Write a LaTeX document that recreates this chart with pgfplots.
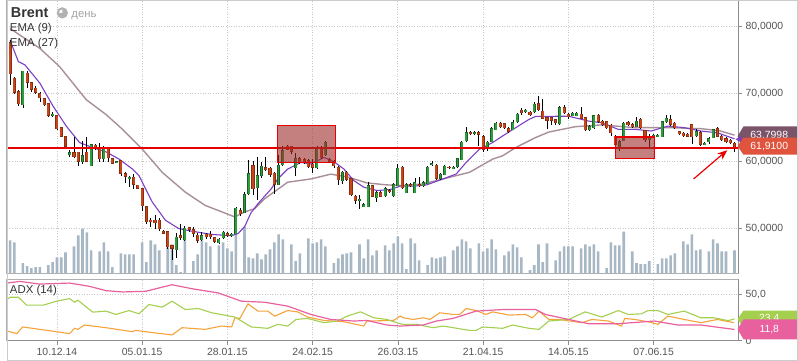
\documentclass[border=0pt]{standalone}
\usepackage{pgfplots}
\pgfplotsset{compat=1.18}
\usepackage{pgfplotstable}
\usepackage{fontspec}
\setmainfont{Liberation Sans}
\usetikzlibrary{arrows.meta}
\definecolor{candR}{HTML}{C8461C}
\definecolor{candRd}{HTML}{8A2C0E}
\definecolor{candG}{HTML}{2E9E3C}
\definecolor{candGd}{HTML}{1C5E25}
\definecolor{volc}{HTML}{A7B7C4}
\definecolor{ema9}{HTML}{7B3FC4}
\definecolor{ema27}{HTML}{A88E9A}
\definecolor{gridc}{HTML}{C8C8C8}
\definecolor{framec}{HTML}{B0B0B0}
\definecolor{axc}{HTML}{8C8C8C}
\definecolor{txt}{HTML}{555555}
\definecolor{adxp}{HTML}{E8609E}
\definecolor{adxg}{HTML}{A5CF4F}
\definecolor{adxo}{HTML}{F5A33A}
\definecolor{lvl}{RGB}{230,0,0}
\definecolor{boxf}{HTML}{9E2A2A}
\definecolor{badgeM}{HTML}{7A5468}
\definecolor{badgeR}{HTML}{E0533C}
\newcommand\fs[1]{\fontsize{#1}{#1}\selectfont}

\pgfplotstableread{
i o h l c
0 77.5 77.9 71.3 73.0
1 72.3 72.5 70.0 70.2
2 70.3 70.5 68.2 68.5
3 68.4 73.4 67.8 73.3
4 73.0 73.3 70.8 71.7
5 71.6 71.8 70.2 70.7
6 70.8 71.1 69.9 70.2
7 70.0 70.2 68.8 69.4
8 69.2 69.4 68.2 68.4
9 68.5 68.6 66.6 66.8
10 66.8 67.3 66.6 66.9
11 66.7 66.9 64.6 64.8
12 64.95 65.0 63.5 63.7
13 63.6 63.6 61.8 62.2
14 61.1 61.6 60.6 61.2
15 61.2 63.5 60.4 60.7
16 61.3 61.3 59.3 60.0
17 60.0 63.0 59.5 60.8
18 61.3 63.5 59.8 60.0
19 59.4 62.5 59.2 62.4
20 62.3 62.5 61.7 61.9
21 61.8 62.7 59.9 60.4
22 60.5 62.3 59.8 61.7
23 61.8 62.0 59.9 60.5
24 60.3 60.5 59.5 59.7
25 59.8 60.0 59.7 59.9
26 60.0 60.1 57.8 58.2
27 58.1 58.4 56.8 57.8
28 57.5 57.8 56.2 57.6
29 57.6 58.1 55.9 56.6
30 56.4 56.5 55.9 56.0
31 55.9 56.0 52.6 53.4
32 53.2 53.3 50.6 51.0
33 51.2 51.6 50.2 51.0
34 51.2 52.0 49.9 50.9
35 51.2 51.5 49.6 50.0
36 49.6 49.8 49.2 49.3
37 49.5 49.6 47.0 47.3
38 47.4 47.5 45.3 47.1
39 47.0 49.3 45.7 48.7
40 48.9 50.6 48.3 48.7
41 48.4 50.3 48.2 50.0
42 50.1 50.2 49.5 49.9
43 49.8 50.2 48.7 49.3
44 49.0 49.4 47.9 48.3
45 48.4 49.5 48.1 48.9
46 49.1 49.4 48.5 48.8
47 49.1 49.6 48.5 48.8
48 48.6 48.8 47.8 48.1
49 48.0 48.6 47.7 48.4
50 48.8 49.6 48.5 49.4
51 49.2 49.5 48.8 49.0
52 49.0 49.3 48.8 49.1
53 49.4 53.2 49.2 53.0
54 52.6 53.0 51.9 52.2
55 52.5 55.4 52.3 55.0
56 55.3 60.2 55.0 58.1
57 59.3 60.0 55.0 55.9
58 56.1 60.6 54.2 57.8
59 57.9 59.8 57.5 59.2
60 59.0 60.6 58.5 58.7
61 58.9 59.1 57.6 58.1
62 58.2 58.4 55.1 56.6
63 56.6 60.9 56.4 59.4
64 59.6 62.2 59.3 61.5
65 62.2 62.4 61.7 61.8
66 62.2 62.3 61.0 61.5
67 59.1 61.2 57.8 60.3
68 60.3 60.6 59.6 59.9
69 60.2 60.5 59.6 59.9
70 60.0 60.3 59.0 59.2
71 59.5 60.3 58.3 59.1
72 59.1 62.2 58.9 62.0
73 62.0 62.2 60.3 60.55
74 61.0 63.0 60.7 62.75
75 60.2 60.5 59.7 59.9
76 59.9 60.2 59.0 59.3
77 59.1 59.3 56.4 57.25
78 57.25 58.5 56.6 58.3
79 58.3 58.5 57.0 57.35
80 57.35 57.5 54.8 55.0
81 54.8 55.0 53.7 54.2
82 54.2 54.9 52.9 54.3
83 53.4 53.8 53.2 53.5
84 53.4 56.9 53.2 56.3
85 56.3 56.5 54.6 54.8
86 54.7 55.5 53.9 55.3
87 55.3 55.5 54.6 54.8
88 54.9 56.1 54.6 55.9
89 55.6 55.8 55.3 55.5
90 54.9 56.7 54.7 56.5
91 56.5 59.6 56.3 58.9
92 59.1 59.3 55.9 56.1
93 55.4 56.7 55.2 56.5
94 56.5 56.7 56.2 56.4
95 55.4 57.5 55.2 56.8
96 56.5 57.7 56.2 56.4
97 56.4 57.0 56.2 56.8
98 56.8 59.3 56.6 59.1
99 59.5 60.0 59.2 59.6
100 59.4 59.6 57.2 57.45
101 57.45 58.2 57.2 58.0
102 58.1 59.4 57.9 59.2
103 59.1 59.3 58.9 59.0
104 59.0 59.3 58.8 59.1
105 59.2 60.5 59.0 60.3
106 60.3 63.0 60.1 62.8
107 63.1 65.0 62.9 64.2
108 64.2 64.4 63.9 64.1
109 64.1 64.4 63.9 64.2
110 64.2 64.4 62.3 64.0
111 63.6 63.8 61.3 61.8
112 62.2 63.0 61.5 62.8
113 63.0 65.0 62.8 64.8
114 64.8 65.8 64.6 65.6
115 65.6 65.8 64.9 65.1
116 65.55 65.7 64.8 64.95
117 64.8 65.0 64.2 64.45
118 64.8 66.1 64.6 65.7
119 65.9 67.1 65.7 66.9
120 67.55 67.9 66.9 67.15
121 67.4 67.7 67.2 67.5
122 67.25 67.5 66.7 66.9
123 67.4 68.7 67.2 68.4
124 68.5 69.7 67.4 67.65
125 67.4 69.2 66.2 66.4
126 66.4 66.6 64.7 66.1
127 66.4 66.6 65.3 66.1
128 66.1 66.3 65.4 65.7
129 65.6 68.1 65.4 67.9
130 67.9 68.3 67.0 67.2
131 66.9 67.1 66.3 66.6
132 66.9 67.3 66.7 67.1
133 66.9 67.3 66.7 67.1
134 66.9 68.0 66.2 66.4
135 66.4 66.6 64.5 64.7
136 64.7 65.3 64.5 65.1
137 65.0 66.9 64.8 66.7
138 66.8 67.0 65.7 65.9
139 65.9 66.1 65.2 65.4
140 65.8 66.0 64.7 64.95
141 65.3 65.5 63.7 64.2
142 63.7 63.9 62.3 62.5
143 62.25 63.1 61.5 62.85
144 63.2 65.8 63.0 65.6
145 65.7 65.9 65.2 65.4
146 65.4 65.6 64.9 65.1
147 65.2 66.5 65.0 65.9
148 66.2 66.4 64.8 65.0
149 64.45 64.6 62.9 63.15
150 63.3 64.0 61.8 63.7
151 63.7 64.0 63.5 63.8
152 63.7 64.0 63.5 63.8
153 63.7 66.0 63.5 65.8
154 65.9 66.9 65.7 66.3
155 66.1 66.9 65.2 65.45
156 65.6 65.8 64.8 65.0
157 64.3 64.5 63.9 64.1
158 64.1 64.3 63.6 63.8
159 64.0 64.2 63.5 63.7
160 65.4 65.5 62.5 63.6
161 63.8 64.8 63.6 64.3
162 64.2 64.4 62.3 62.5
163 62.55 62.8 62.4 62.65
164 63.0 63.5 62.5 63.3
165 63.6 64.8 63.4 64.6
166 64.8 65.1 63.5 63.7
167 63.7 63.9 63.0 63.2
168 63.3 63.5 62.7 62.85
169 63.1 63.3 62.5 62.75
170 62.65 62.8 61.4 61.9
}\candles

\pgfplotstableread{
i v
0 33
1 31
2 0
3 10
4 7
5 5
6 6
7 6
8 0
9 8
10 11
11 16
12 16
13 21
14 0
15 27
16 38
17 45
18 41
19 23
20 0
21 22
22 31
23 22
24 6
25 0
26 20
27 19
28 19
29 19
30 0
31 31
32 11
33 33
34 29
35 23
36 0
37 26
38 29
39 8
40 1
41 45
42 0
43 12
44 19
45 33
46 31
47 27
48 0
49 28
50 31
51 25
52 22
53 47
54 0
55 47
56 16
57 15
58 20
59 14
60 19
61 24
62 31
63 39
64 34
65 0
66 29
67 12
68 20
69 0
70 35
71 30
72 31
73 34
74 27
75 0
76 10
77 15
78 19
79 20
80 21
81 0
82 29
83 15
84 34
85 18
86 23
87 0
88 28
89 23
90 30
91 37
92 30
93 4
94 35
95 30
96 13
97 0
98 8
99 16
100 15
101 16
102 17
103 0
104 23
105 27
106 34
107 32
108 25
109 0
110 30
111 22
112 25
113 34
114 24
115 0
116 18
117 22
118 29
119 26
120 16
121 0
122 3
123 8
124 29
125 11
126 30
127 0
128 13
129 22
130 27
131 27
132 27
133 0
134 25
135 29
136 27
137 29
138 22
139 0
140 5
141 31
142 28
143 28
144 42
145 0
146 22
147 10
148 9
149 9
150 12
151 0
152 9
153 15
154 15
155 18
156 20
157 0
158 32
159 29
160 39
161 23
162 24
163 0
164 22
165 34
166 30
167 22
168 22
169 0
170 23
}\vol

\pgfplotstableread{
i p
0 77.9
1.95 74.75
3.49 74.26
6.98 71.57
10.1 68.13
13.19 65.19
16.29 62.75
19.4 62.0
22.5 61.37
25.59 60.29
28.71 58.82
30.25 57.84
33.36 53.93
36.46 51.22
39.55 50.0
42.67 49.6
47.32 49.12
51.98 48.93
53.51 49.26
55.07 50.3
56.5 52.3
58.17 53.68
61.28 55.88
62.82 57.35
65.15 58.82
68.26 59.81
70.59 59.56
73.68 60.54
76.01 59.9
78.34 58.82
80.67 57.1
82.99 56.13
86.09 55.63
89.2 55.78
91.53 56.28
94.63 56.28
97.72 56.47
101.6 57.35
104.7 58.09
107.03 59.81
110.14 61.76
113.24 62.75
115.57 63.72
118.66 64.96
121.77 66.18
123.31 66.62
131.08 66.66
135.74 65.93
138.83 65.69
142.71 64.71
146.6 64.71
150.47 64.46
154.35 65.19
158.21 64.96
162.1 64.46
165.98 64.2
170 63.3
}\emanine

\pgfplotstableread{
i p
0 79.66
6.98 76.72
11.63 74.01
17.85 69.12
22.5 66.91
26.38 64.71
31.04 61.76
35.69 58.34
41.11 55.4
45.77 53.43
52.74 51.72
55.07 52.46
57.4 52.94
59.72 54.41
65.15 56.87
70.59 57.35
75.24 58.06
79.11 57.66
83.76 56.76
88.42 56.47
92.3 56.37
96.95 56.62
103.16 57.6
107.82 58.34
113.24 60.29
115.57 60.78
118.66 62.01
123.31 63.49
126.43 64.31
132.62 65.1
138.83 65.37
146.6 64.96
154.35 64.96
162.1 64.81
166.5 64.5
170 63.85
}\ematw

\pgfplotstableread{
i v
-0.77 62.1
2.33 63.9
6.91 61.0
13.96 62.1
18.61 58.6
22.5 53.9
26.38 52.5
31.8 53.2
38.02 60.3
42.67 56.0
48.86 51.4
54.3 42.5
59.72 41.4
65.15 37.2
70.59 28.2
75.24 22.8
80.67 21.1
83.76 21.7
88.42 16.8
91.53 15.7
96.95 16.8
100.04 21.1
103.93 23.9
109.35 31.8
115.57 33.5
123.31 33.5
125.64 28.2
131.08 22.8
135.74 18.2
142.71 18.2
151.23 21.1
156.68 16.8
162.1 16.8
169.84 12.1
170 11.8
}\adx

\pgfplotstableread{
i v
-0.77 44.2
0 46.8
1.95 46.8
3.89 38.2
7.77 38.2
10.87 42.5
13.96 45.3
15.12 41.4
15.91 43.6
19.4 30.7
22.5 31.8
24.83 28.2
27.92 32.4
30.25 28.9
32.57 38.9
35.69 36.1
38.02 42.5
41.11 33.5
44.21 34.6
47.32 30.0
52.74 25.4
56.63 14.7
60.49 13.2
62.82 17.5
65.15 15.7
67.1 22.8
69.8 23.9
73.68 19.3
76.78 21.1
79.11 26.4
82.22 31.0
85.32 24.6
88.42 22.8
91.53 18.2
92.3 17.5
95.39 17.5
99.27 13.9
101.6 15.7
107.82 11.0
109.35 11.0
110.91 14.7
115.57 13.2
117.89 16.8
121.77 13.2
124.1 12.1
126.43 21.1
131.08 22.8
134.95 31.0
138.83 25.4
142.71 32.4
145.04 28.2
148.14 28.9
149.7 32.4
152.02 32.4
154.35 28.2
158.21 31.8
162.1 24.6
165.19 24.6
168.5 21.5
170 23.4
}\dip

\pgfplotstableread{
i v
-0.77 10.4
1.56 7.5
2.95 14.7
6.98 12.1
13.96 7.5
15.12 13.2
15.91 12.1
17.45 16.8
22.5 13.9
28.71 9.6
29.48 11.0
33.36 8.6
38.02 6.1
40.34 13.9
45.77 12.1
49.65 15.7
51.98 14.7
52.74 24.6
53.91 23.9
55.84 39.6
58.17 31.8
60.49 31.8
62.05 26.4
65.15 32.4
67.47 31.0
69.8 25.4
73.68 21.7
78.34 20.3
82.99 15.7
83.76 21.1
89.97 21.7
91.53 26.4
92.3 24.6
94.63 22.8
96.95 24.6
98.51 22.8
100.84 30.0
103.93 28.2
105.49 28.2
107.03 34.6
109.35 32.4
111.68 28.2
113.24 31.0
117.12 27.5
120.98 28.2
122.54 24.6
124.1 31.8
126.43 22.8
128.75 22.8
134.18 19.3
136.5 22.8
140.39 21.1
143.48 15.7
144.25 23.9
146.6 22.8
149.7 20.3
152.02 17.5
154.35 26.4
158.21 22.8
162.1 19.3
165.98 22.8
169.84 19.3
}\dim

\newcommand\badge[5]{%
  \fill[#1] (737pt,{(#2+#3)/2*1pt}) -- (743pt,#2pt) -- (798pt,#2pt) -- (798pt,#3pt) -- (743pt,#3pt) -- cycle;
  \node[text=white, font=\fs{10.5}, anchor=center, inner sep=0pt] at (769pt,#4pt) {#5};}

\begin{document}
\begin{tikzpicture}
\fill[white] (0pt,0pt) rectangle (798pt,363pt);

% ---------- volume + main grid ----------
\begin{axis}[at={(0pt,88pt)}, anchor=south west, width=738pt, height=275pt, scale only axis,
  xmin=-0.77, xmax=170.94, ymin=0, ymax=275,
  axis line style={draw=none}, tick style={draw=none},
  xtick={11,31,...,151}, ytick={45,113,181,249},
  xticklabels={}, yticklabels={},
  grid=major, major grid style={gridc, line width=0.9pt, dash pattern=on 1pt off 1.6pt}]
\addplot[ybar, bar width=2.6pt, bar shift=0pt, fill=volc, draw=none] table[x=i,y=v]{\vol};
\end{axis}

% ---------- main price panel ----------
\begin{axis}[at={(0pt,88pt)}, anchor=south west, width=738pt, height=275pt, scale only axis,
  xmin=-0.77, xmax=170.94, ymin=43.38, ymax=83.82,
  axis line style={framec, line width=0.8pt},
  xtick=\empty,
  ytick={50,60,70,80}, yticklabels={{50,0000},{60,0000},{70,0000},{80,0000}},
  ytick pos=right, yticklabel pos=right, tick align=outside, major tick length=4pt,
  tick style={axc, line width=0.7pt},
  yticklabel style={font=\fs{10.5}, text=txt, anchor=west, inner sep=0pt, xshift=3pt}]
\addplot[ema27, line width=1.4pt] table[x=i,y=p]{\ematw};
\addplot[ema9, line width=1.1pt] table[x=i,y=p]{\emanine};
% wicks
\addplot[draw=none, mark=none,
  error bars/.cd, y dir=both, y explicit, error mark=none,
  error bar style={draw=black, line width=0.75pt}]
  table[x=i, y=o, y error plus expr=\thisrow{h}-\thisrow{o}, y error minus expr=\thisrow{o}-\thisrow{l}]{\candles};
% green bodies
\addplot[draw=none, mark=none, restrict expr to domain={\thisrow{c}-\thisrow{o}}{0:100},
  error bars/.cd, y dir=both, y explicit, error mark=none,
  error bar style={draw=candGd, line width=3.1pt, line cap=butt}]
  table[x=i, y=o, y error plus expr=\thisrow{c}-\thisrow{o}+0.09, y error minus expr=0.09]{\candles};
\addplot[draw=none, mark=none, restrict expr to domain={\thisrow{c}-\thisrow{o}}{0:100},
  error bars/.cd, y dir=both, y explicit, error mark=none,
  error bar style={draw=candG, line width=1.9pt, line cap=butt}]
  table[x=i, y=o, y error plus expr=\thisrow{c}-\thisrow{o}+0.02, y error minus expr=0.02]{\candles};
% red bodies
\addplot[draw=none, mark=none, restrict expr to domain={\thisrow{o}-\thisrow{c}}{0.0001:100},
  error bars/.cd, y dir=both, y explicit, error mark=none,
  error bar style={draw=candRd, line width=3.1pt, line cap=butt}]
  table[x=i, y=o, y error plus expr=0.09, y error minus expr=\thisrow{o}-\thisrow{c}+0.09]{\candles};
\addplot[draw=none, mark=none, restrict expr to domain={\thisrow{o}-\thisrow{c}}{0.0001:100},
  error bars/.cd, y dir=both, y explicit, error mark=none,
  error bar style={draw=candR, line width=1.9pt, line cap=butt}]
  table[x=i, y=o, y error plus expr=0.02, y error minus expr=\thisrow{o}-\thisrow{c}+0.02]{\candles};
% level line
\addplot[draw=lvl, mark=none, line width=1.3pt] coordinates {(-0.77,61.95) (170.94,61.95)};
% boxes: fill first, then red border
\addplot[draw=none, mark=none, fill=boxf, fill opacity=0.6] coordinates {(62.8,59.8) (76.4,59.8) (76.4,65.3) (62.8,65.3)} -- cycle;
\addplot[draw=none, mark=none, fill=boxf, fill opacity=0.6] coordinates {(142.0,60.4) (151.2,60.4) (151.2,63.57) (142.0,63.57)} -- cycle;
\addplot[draw=lvl, mark=none, line width=1.3pt] coordinates {(62.8,59.8) (76.4,59.8) (76.4,65.3) (62.8,65.3)} -- cycle;
\addplot[draw=lvl, mark=none, line width=1.3pt] coordinates {(142.0,60.4) (151.2,60.4) (151.2,63.57) (142.0,63.57)} -- cycle;
% arrow
\addplot[draw=lvl, mark=none, line width=1.2pt, -{Stealth[length=10pt,width=8pt]}] coordinates {(160.4,57.35) (168.3,61.62)};
\end{axis}
\draw[axc, line width=1pt] (738pt,88pt) -- (738pt,363pt);

% ---------- ADX panel ----------
\begin{axis}[at={(0pt,20pt)}, anchor=south west, width=738pt, height=62pt, scale only axis,
  xmin=-0.77, xmax=170.94, ymin=0, ymax=66.38,
  axis line style={framec, line width=0.8pt},
  xtick={11,31,...,151},
  xticklabels={10.12.14,05.01.15,28.01.15,24.02.15,26.03.15,21.04.15,14.05.15,07.06.15},
  ytick={0,50}, yticklabels={0,{50,0}},
  xtick pos=bottom, ytick pos=right, yticklabel pos=right, tick align=outside, major tick length=4pt,
  tick style={axc, line width=0.7pt},
  grid=major, major grid style={gridc, line width=0.9pt, dash pattern=on 1pt off 1.6pt},
  xticklabel style={font=\fs{10.5}, text=txt, anchor=north, inner sep=0pt, yshift=-4pt},
  yticklabel style={font=\fs{10.5}, text=txt, anchor=west, inner sep=0pt, xshift=3pt}]
\addplot[adxo, line width=1.1pt] table[x=i,y=v]{\dim};
\addplot[adxg, line width=1.1pt] table[x=i,y=v]{\dip};
\addplot[adxp, line width=1.2pt] table[x=i,y=v]{\adx};
\end{axis}
\draw[axc, line width=1pt] (738pt,20pt) -- (738pt,82pt);
\draw[axc, line width=0.8pt] (0pt,20pt) -- (738pt,20pt);

% ---------- badges ----------
\badge{badgeM}{236}{216}{227}{63,7998}
\fill[ema9] (735pt,223pt) -- (741pt,226.5pt) -- (741pt,219.5pt) -- cycle;
\badge{badgeR}{224.7}{207.5}{216}{61,9100}
\badge{adxg}{50.3}{33}{42.5}{23,4}
\badge{adxp}{41.3}{21.3}{31}{11,8}

% ---------- texts ----------
\node[anchor=base west, inner sep=0pt, font=\fs{14.5}\bfseries, text=black!80] at (4pt,346pt) {Brent};
\draw[gray!60, line width=2pt] (56pt,350.5pt) circle (4.6pt);
\fill[gray!60] (56pt,350.5pt) -- (56pt,355.1pt) arc (90:-180:4.6pt) -- cycle;
\node[anchor=base west, inner sep=0pt, font=\fs{11.5}, text=gray!70] at (65pt,346pt) {день};
\node[anchor=base west, inner sep=0pt, font=\fs{11.5}, text=black!80] at (3pt,332pt) {EMA (9)};
\node[anchor=base west, inner sep=0pt, font=\fs{11.5}, text=black!80] at (3pt,317pt) {EMA (27)};
\node[anchor=base west, inner sep=0pt, font=\fs{11.5}, text=black!80] at (3pt,67pt) {ADX (14)};

\draw[black!20, line width=0.8pt] (0.4pt,0.4pt) rectangle (797.6pt,362.6pt);
\end{tikzpicture}
\end{document}
